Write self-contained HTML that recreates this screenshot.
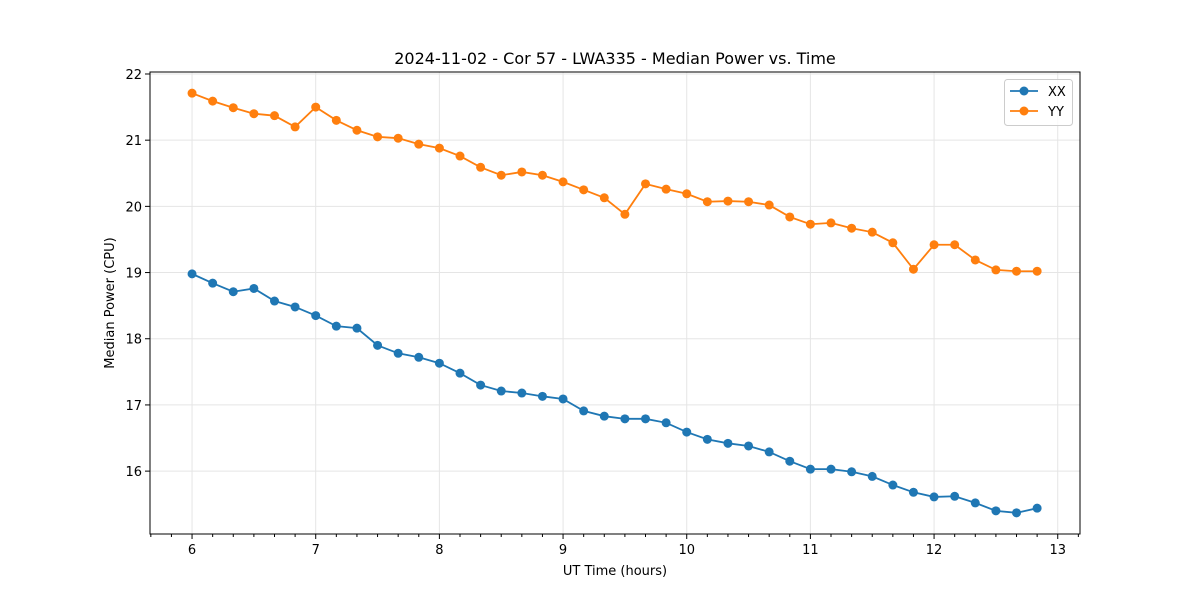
<!DOCTYPE html>
<html><head><meta charset="utf-8"><style>
body{margin:0;background:#fff}
svg text{font-family:"DejaVu Sans","Liberation Sans",sans-serif;fill:#000}
</style></head><body>
<svg id="c" width="1200" height="600" viewBox="0 0 1200 600"></svg>
<script>
const xxValues=[18.98,18.84,18.71,18.76,18.57,18.48,18.35,18.19,18.16,17.90,17.78,17.72,17.63,17.48,17.30,17.21,17.18,17.13,17.09,16.91,16.83,16.79,16.79,16.73,16.59,16.48,16.42,16.38,16.29,16.15,16.03,16.03,15.99,15.92,15.79,15.68,15.61,15.62,15.52,15.40,15.37,15.44];
const yyValues=[21.71,21.59,21.49,21.40,21.37,21.20,21.50,21.30,21.15,21.05,21.03,20.94,20.88,20.76,20.59,20.47,20.52,20.47,20.37,20.25,20.13,19.88,20.34,20.26,20.19,20.07,20.08,20.07,20.02,19.84,19.73,19.75,19.67,19.61,19.45,19.05,19.42,19.42,19.19,19.04,19.02,19.02];
const timesHours=xxValues.map((_,i)=>6+i/6);
const xTicks=[6,7,8,9,10,11,12,13];
const yTicks=[16,17,18,19,20,21,22];
const L=150,R=1080,T=72,B=534;
const X0=5.66,X1=13.18,Y0=15.05,Y1=22.03;
const sx=v=>L+(v-X0)/(X1-X0)*(R-L);
const sy=v=>B-(v-Y0)/(Y1-Y0)*(B-T);
const svg=document.getElementById('c');
const NS='http://www.w3.org/2000/svg';
function mk(t,a,p){const e=document.createElementNS(NS,t);for(const k in a)e.setAttribute(k,a[k]);(p||svg).appendChild(e);return e;}
// grid
xTicks.forEach(t=>{const g=mk('line',{x1:sx(t),x2:sx(t),y1:T,y2:B,stroke:'#e5e5e5','stroke-width':1});


const k=mk('line',{x1:sx(t),x2:sx(t),y1:B,y2:B+5,stroke:'#000'});


const tx=mk('text',{x:sx(t),y:B+20,'text-anchor':'middle','font-size':13});tx.textContent=t;

});
for(let m=Math.ceil(X0*6);m<=X1*6;m++){if(m%6===0)continue;const k=mk('line',{x1:sx(m/6),x2:sx(m/6),y1:B,y2:B+3,stroke:'#000'});

}
yTicks.forEach(t=>{const g=mk('line',{x1:L,x2:R,y1:sy(t),y2:sy(t),stroke:'#e5e5e5','stroke-width':1});


const k=mk('line',{x1:L-5,x2:L,y1:sy(t),y2:sy(t),stroke:'#000'});


const tx=mk('text',{x:L-8,y:sy(t)+5,'text-anchor':'end','font-size':13});tx.textContent=t;

});
function series(vals,col,name){const g=mk('g',{});


mk('polyline',{points:vals.map((v,i)=>sx(timesHours[i])+','+sy(v)).join(' '),fill:'none',stroke:col,'stroke-width':1.8},g);
vals.forEach((v,i)=>{const c=mk('circle',{cx:sx(timesHours[i]),cy:sy(v),r:4.5,fill:col},g);

});}
series(xxValues,'#1f77b4','xx-series');
series(yyValues,'#ff7f0e','yy-series');
const f=mk('rect',{x:L,y:T,width:R-L,height:B-T,fill:'none',stroke:'#000','stroke-width':1});


</script>
<svg width="1200" height="600" style="position:absolute;left:0;top:0">
<text x="615" y="64" text-anchor="middle" font-size="16">2024-11-02 - Cor 57 - LWA335 - Median Power vs. Time</text>
<text x="615" y="575" text-anchor="middle" font-size="13">UT Time (hours)</text>
<text x="114" y="303" text-anchor="middle" font-size="13" transform="rotate(-90 114 303)">Median Power (CPU)</text>
<g>
<rect x="1004.5" y="79.5" width="68" height="46" rx="3" fill="#fff" fill-opacity="0.8" stroke="#ccc"/>
<g><line x1="1010" x2="1038" y1="91" y2="91" stroke="#1f77b4" stroke-width="1.8"/><circle cx="1024" cy="91" r="4.5" fill="#1f77b4"/><text x="1048" y="96" font-size="13">XX</text></g>
<g><line x1="1010" x2="1038" y1="111" y2="111" stroke="#ff7f0e" stroke-width="1.8"/><circle cx="1024" cy="111" r="4.5" fill="#ff7f0e"/><text x="1048" y="116" font-size="13">YY</text></g>
</g>
</svg>
</body></html>
